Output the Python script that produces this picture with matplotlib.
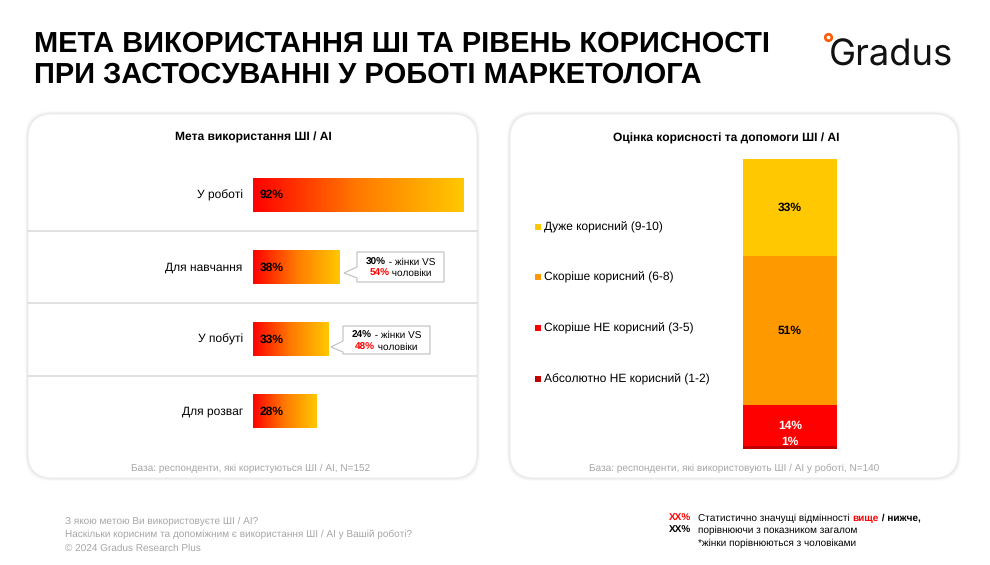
import matplotlib
matplotlib.use("Agg")
import matplotlib.pyplot as plt
import numpy as np
from matplotlib.patches import FancyBboxPatch, Polygon, Ellipse, Rectangle
from matplotlib.lines import Line2D
from matplotlib.colors import LinearSegmentedColormap

plt.rcParams['font.family'] = ['Liberation Sans', 'DejaVu Sans']
plt.rcParams['text.hinting'] = 'no_hinting'
plt.rcParams['text.hinting_factor'] = 1

# ---------------- data ----------------
title_lines = ["МЕТА ВИКОРИСТАННЯ ШІ ТА РІВЕНЬ КОРИСНОСТІ",
               "ПРИ ЗАСТОСУВАННІ У РОБОТІ МАРКЕТОЛОГА"]
left_title = "Мета використання ШІ / AI"
purpose_cats = ["У роботі", "Для навчання", "У побуті", "Для розваг"]
purpose_vals = [92, 38, 33, 28]
callout_women = [None, 30, 24, None]
callout_men = [None, 54, 48, None]
left_base = "База: респонденти, які користуються ШІ / AI, N=152"

right_title = "Оцінка корисності та допомоги ШІ / AI"
useful_cats = ["Абсолютно НЕ корисний (1-2)", "Скоріше НЕ корисний (3-5)",
               "Скоріше корисний (6-8)", "Дуже корисний (9-10)"]
useful_vals = [1, 14, 51, 33]
useful_colors = ["#C00000", "#FF0000", "#FF9900", "#FFC800"]
useful_label_colors = ["white", "white", "black", "black"]
right_base = "База: респонденти, які використовують ШІ / AI у роботі, N=140"

footer_left = ["З якою метою Ви використовуєте ШІ / AI?",
               "Наскільки корисним та допоміжним є використання ШІ / AI у Вашій роботі?",
               "© 2024 Gradus Research Plus"]

W, H = 990, 565
fig = plt.figure(figsize=(W / 100, H / 100), dpi=100)
fig.patch.set_facecolor("white")


def fx(x):
    return x / W


def fy(y):
    return 1 - y / H


def ftext(x, y, s, **kw):
    return fig.text(fx(x), fy(y), s, **kw)


renderer = fig.canvas.get_renderer()


def rich(x, y, parts, size, ha="left"):
    """parts: list of (text, color, weight). x in px."""
    widths = []
    for t, c, w in parts:
        tt = fig.text(0, 0, t.replace(" ", "\u00a0"), fontsize=size, fontweight=w)
        bb = tt.get_window_extent(renderer)
        widths.append(bb.width)
        tt.remove()
    total = sum(widths)
    x0 = x - total / 2 if ha == "center" else x
    cx = x0
    for (t, c, w), wd in zip(parts, widths):
        ftext(cx, y, t.replace(" ", "\u00a0"), fontsize=size, fontweight=w, color=c, va="center", ha="left")
        cx += wd


# ---------------- header ----------------
ftext(34, 44, title_lines[0], fontsize=20.7, fontweight="bold", va="center", ha="left")
ftext(34, 75, title_lines[1], fontsize=20.7, fontweight="bold", va="center", ha="left")

ftext(829, 56, "Gradus", fontsize=26.2, family=["Inter", "DejaVu Sans"], va="center", ha="left",
      color="#111111")
fig.patches.append(Ellipse((fx(828.5), fy(37.5)), 6.5 / W, 6.5 / H, transform=fig.transFigure,
                           facecolor="none", edgecolor="#FF5A00", linewidth=1.9))

# ---------------- panels ----------------
for (x0, x1) in [(28, 477), (510, 958)]:
    y0, y1 = 114, 478
    for k, a in [(3, 0.02), (2, 0.03), (1, 0.04)]:
        fig.patches.append(FancyBboxPatch((fx(x0 - k), fy(y1 + k)), fx(x1 - x0 + 2 * k), (y1 - y0 + 2 * k) / H,
                                          boxstyle="round,pad=0,rounding_size=0.026",
                                          transform=fig.transFigure, facecolor="black",
                                          edgecolor="none", alpha=a, mutation_aspect=W / H))
    fig.patches.append(FancyBboxPatch((fx(x0), fy(y1)), fx(x1 - x0), (y1 - y0) / H,
                                      boxstyle="round,pad=0,rounding_size=0.025",
                                      transform=fig.transFigure, facecolor="white",
                                      edgecolor="#EDEDED", linewidth=0.6, mutation_aspect=W / H))

# ---------------- left panel ----------------
ftext(253, 137, left_title, fontsize=8.8, fontweight="bold", ha="center", va="center")
ftext(251, 468, left_base, fontsize=7.4, color="#A6A6A6", ha="center", va="center")

for ysep in [231, 303, 376]:
    fig.lines.append(Line2D([fx(28), fx(477)], [fy(ysep), fy(ysep)], transform=fig.transFigure,
                            color="#DCDCDC", linewidth=1.2))

axL = fig.add_axes([fx(253), fy(448), 228.3 / W, 289 / H])
axL.set_zorder(5)
axL.patch.set_visible(False)
axL.axis("off")
grad_cmap = LinearSegmentedColormap.from_list("g", ["#FF0000", "#FF7A00", "#FFC800"])
grad = np.linspace(0, 1, 256).reshape(1, -1)
bh = 0.46
for i, (cat, v) in enumerate(zip(purpose_cats, purpose_vals)):
    axL.imshow(grad, cmap=grad_cmap, aspect="auto",
               extent=(0, v, i + bh / 2, i - bh / 2), interpolation="bicubic", zorder=2)
    axL.text(2.8, i, f"{v}%", fontsize=8.8, fontweight="bold", va="center", ha="left", zorder=3)
    axL.text(-4.5, i, cat, fontsize=8.7, va="center", ha="right", clip_on=False)
axL.set_xlim(0, 100)
axL.set_ylim(3.5, -0.5)

# callouts
callout_geo = {1: dict(box=(357, 252, 444, 282), tip=(344, 273), base=(267, 278), ty=(262, 273.5)),
               2: dict(box=(343, 326, 430, 354), tip=(331, 347), base=(341, 352), ty=(335, 347))}
for i, g in callout_geo.items():
    bx0, by0, bx1, by1 = g["box"]
    tx, ty = g["tip"]
    b0, b1 = g["base"]
    pts = [(bx0, by0), (bx1, by0), (bx1, by1), (bx0, by1), (bx0, b1), (tx, ty), (bx0, b0)]
    fig.patches.append(Polygon([(fx(a), fy(b)) for a, b in pts], closed=True, transform=fig.transFigure,
                               facecolor="white", edgecolor="#BFBFBF", linewidth=0.8))
    cx = (bx0 + bx1) / 2
    rich(cx, g["ty"][0], [(f"{callout_women[i]}%", "black", "bold"), (" - жінки VS", "black", "normal")],
         7.4, ha="center")
    rich(cx, g["ty"][1], [(f"{callout_men[i]}%", "#FF0000", "bold"), (" чоловіки", "black", "normal")],
         7.4, ha="center")

# ---------------- right panel ----------------
ftext(726, 138, right_title, fontsize=8.8, fontweight="bold", ha="center", va="center")
ftext(734, 468, right_base, fontsize=7.4, color="#A6A6A6", ha="center", va="center")

axR = fig.add_axes([fx(743), fy(449), 94 / W, 290 / H])
axR.set_zorder(5)
axR.patch.set_visible(False)
axR.axis("off")
bottom = 0
label_offsets = [1.9, 0, 0, 0]
for v, c, lc, off in zip(useful_vals, useful_colors, useful_label_colors, label_offsets):
    axR.bar(0, v, bottom=bottom, width=1.0, color=c, edgecolor="none")
    axR.text(0, bottom + v / 2 + off, f"{v}%", ha="center", va="center", fontsize=8.8,
             fontweight="bold", color=lc)
    bottom += v
axR.set_xlim(-0.5, 0.5)
axR.set_ylim(0, sum(useful_vals))

legend_y = {3: 227, 2: 277, 1: 328, 0: 379}
for i, cat in enumerate(useful_cats):
    y = legend_y[i]
    fig.patches.append(Rectangle((fx(535), fy(y + 2.5)), 6 / W, 6 / H, transform=fig.transFigure,
                                 facecolor=useful_colors[i], edgecolor="none"))
    ftext(544, y, cat, fontsize=8.9, ha="left", va="center")

# ---------------- footer ----------------
for k, line in enumerate(footer_left):
    ftext(65, 521 + 13.5 * k, line, fontsize=7.3, color="#A6A6A6", ha="left", va="center")

ftext(669, 518, "XX%", fontsize=7.3, fontweight="bold", color="#FF0000", ha="left", va="center")
ftext(669, 530.5, "XX%", fontsize=7.3, fontweight="bold", color="black", ha="left", va="center")
rich(698, 518, [("Статистично значущі відмінності ", "black", "normal"),
                ("вище", "#FF0000", "bold"), (" / нижче,", "black", "bold")], 7.1)
ftext(698, 530.5, "порівнюючи з показником загалом", fontsize=7.1, ha="left", va="center")
ftext(698, 543, "*жінки порівнюються з чоловіками", fontsize=7.1, ha="left", va="center")

fig.savefig("out.png", dpi=100, facecolor="white")
